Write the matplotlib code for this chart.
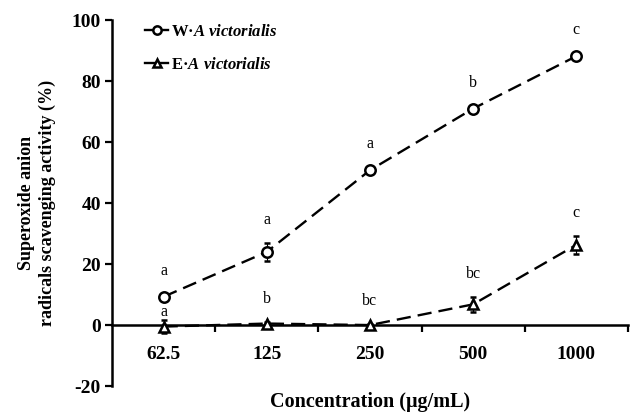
import matplotlib
matplotlib.use("Agg")
import matplotlib.pyplot as plt
from matplotlib.lines import Line2D
from matplotlib.legend_handler import HandlerLine2D
import numpy as np

# data
concentrations = ["62.5", "125", "250", "500", "1000"]
w_mean = [9.3, 24.0, 50.8, 71.0, 88.2]
w_err = [1.0, 3.0, 1.0, 1.0, 1.0]
w_letters = ["a", "a", "a", "b", "c"]
e_mean = [-0.5, 0.5, 0.0, 6.8, 26.3]
e_err = [2.0, 0.6, 0.5, 2.5, 3.0]
e_letters = ["a", "b", "bc", "bc", "c"]

plt.rcParams['font.family'] = ['Liberation Serif', 'DejaVu Serif']
plt.rcParams['mathtext.fontset'] = 'custom'
plt.rcParams['mathtext.rm'] = 'Liberation Serif:bold'
plt.rcParams['mathtext.it'] = 'Liberation Serif:italic:bold'


class RightMarker(HandlerLine2D):
    """Legend handle: short line with the marker at its right end."""
    def get_xdata(self, legend, xdescent, ydescent, width, height, fontsize):
        xdata = np.array([-xdescent, -xdescent + width])
        return xdata, np.array([-xdescent + width - 0.35 * fontsize])


fig = plt.figure(figsize=(6.33, 4.12), dpi=100)
ax = fig.add_axes([0.177, 0.063, 0.815, 0.888])

# spine position first: it resets the tick formatting
ax.spines["top"].set_visible(False)
ax.spines["right"].set_visible(False)
ax.spines["left"].set_linewidth(1.8)
ax.spines["bottom"].set_linewidth(1.8)
ax.spines["bottom"].set_position(("data", 0))

x = np.arange(len(concentrations))
dash = (6, 3)
style = dict(color="black", lw=1.7, dashes=dash, ms=7.5, mfc="white",
             mec="black", mew=1.8, ecolor="black", elinewidth=0.8,
             capsize=2, capthick=0.8, zorder=3)
ax.errorbar(x, w_mean, yerr=w_err, marker="o", **style)
ax.errorbar(x, e_mean, yerr=e_err, marker="^", **style)

# significance letters above each point
for i in range(len(x)):
    ax.text(x[i], w_mean[i] + w_err[i] + 7.5, w_letters[i], ha="center",
            va="center", fontsize=11.5)
    y_e = e_mean[i] + e_err[i] + 7.5
    if i == 0:
        y_e = e_mean[i] + e_err[i] + 2.8  # squeezed under the circle
    ax.text(x[i], y_e, e_letters[i], ha="center", va="center", fontsize=11.5)

ax.set_xlim(-0.5, len(x) - 0.5)
ax.set_ylim(-20, 100)
ax.set_yticks(np.arange(-20, 101, 20))
ax.set_yticklabels([str(v) for v in range(-20, 101, 20)],
                   fontsize=14, fontweight="bold")
ax.set_xticks(x)
ax.set_xticklabels(concentrations, fontsize=14, fontweight="bold")
ax.set_xticks(np.arange(0.5, len(x), 1.0), minor=True)
ax.tick_params(axis="x", which="major", length=0, pad=15)
ax.tick_params(axis="x", which="minor", length=5, width=1.6, direction="out")
ax.tick_params(axis="y", length=5, width=1.6, direction="out", pad=3)

ax.set_ylabel("Superoxide anion\nradicals scavenging activity (%)",
              fontsize=13, fontweight="bold", labelpad=11, linespacing=1.3)
ax.set_xlabel("Concentration (μg/mL)", fontsize=14.5, fontweight="bold",
              va="top")
ax.xaxis.set_label_coords(0.5, -0.015)

handles = [
    Line2D([], [], color="black", lw=1.7, marker="o", ms=6, mfc="white",
           mec="black", mew=1.8),
    Line2D([], [], color="black", lw=1.7, marker="^", ms=6, mfc="white",
           mec="black", mew=1.8),
]
labels = [r"$\mathrm{W·}\mathit{A\ victorialis}$",
          r"$\mathrm{E·}\mathit{A\ victorialis}$"]
ax.legend(handles, labels, loc="upper left", bbox_to_anchor=(0.035, 1.03),
          frameon=False, fontsize=12, handlelength=1.4, handletextpad=0.15,
          labelspacing=1.0, numpoints=1,
          handler_map={h: RightMarker() for h in handles})

fig.savefig("out.png", dpi=100)
